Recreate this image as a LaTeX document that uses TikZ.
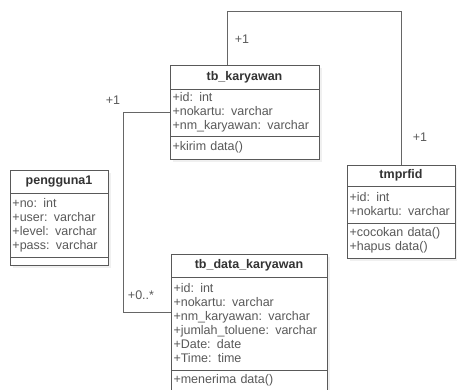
\documentclass[tikz,border=0pt]{standalone}
\usepackage{fontspec}
\setmainfont{Liberation Sans}
\usetikzlibrary{positioning,shadows}

\begin{document}
\begin{tikzpicture}[x=1pt,y=-1pt,
  cls/.style={draw=black!65, fill=white, line width=0.8pt, outer sep=0pt,
    inner xsep=2.5pt, inner ysep=0pt, text=black!65,
    font=\fontsize{12.5}{14}\selectfont,
    drop shadow={opacity=0.12, shadow xshift=3pt, shadow yshift=-3pt}},
  head/.style={cls, anchor=north west, align=center, text=black!80, font=\fontsize{12.5}{14}\selectfont\bfseries},
  part/.style={cls, align=left},
  conn/.style={draw=black!60, line width=0.8pt},
  mult/.style={text=black!65, font=\fontsize{12.5}{14}\selectfont}]
\useasboundingbox (0,0) rectangle (457,389);
% tb_karyawan
\node[head, text width=144pt, minimum height=24pt] (kary) at (170,65) {tb\_karyawan};
\node[part, text width=144pt, minimum height=47pt, below right=0pt and 0pt of kary.south west] (karyattr) {+id: int\\+nokartu: varchar\\+nm\_karyawan: varchar};
\node[part, text width=144pt, minimum height=23pt, below right=0pt and 0pt of karyattr.south west] (karymeth) {+kirim data()};
% tmprfid
\node[head, text width=103pt, minimum height=21pt] (rfid) at (347,165) {tmprfid};
\node[part, text width=103pt, minimum height=37pt, below right=0pt and 0pt of rfid.south west] (rfidattr) {+id: int\\+nokartu: varchar};
\node[part, text width=103pt, minimum height=35pt, below right=0pt and 0pt of rfidattr.south west] (rfidmeth) {+cocokan data()\\+hapus data()};
% pengguna1
\node[head, text width=93pt, minimum height=23pt] (user) at (10,170) {pengguna1};
\node[part, text width=93pt, minimum height=64pt, below right=0pt and 0pt of user.south west] (userattr) {+no: int\\+user: varchar\\+level: varchar\\+pass: varchar};
\node[part, text width=93pt, minimum height=8pt, below right=0pt and 0pt of userattr.south west] (usermeth) {};
% tb_data_karyawan
\node[head, text width=151pt, minimum height=23pt] (data) at (171,254) {tb\_data\_karyawan};
\node[part, text width=151pt, minimum height=93pt, below right=0pt and 0pt of data.south west] (dataattr) {+id: int\\+nokartu: varchar\\+nm\_karyawan: varchar\\+jumlah\_toluene: varchar\\+Date: date\\+Time: time};
\node[part, text width=151pt, minimum height=20pt, below right=0pt and 0pt of dataattr.south west] (datameth) {+menerima data()};

\draw[conn] ([xshift=57pt]kary.north west) |- ([yshift=154pt]rfid.north) -- (rfid.north);
\draw[conn] (karyattr.west) -- ++(-47pt,0) |- ([yshift=11.5pt]dataattr.west);
\node[mult] (m1) at (242,39) {+1};
\node[mult] (m2) at (420,137) {+1};
\node[mult] (m3) at (113,100) {+1};
\node[mult] (m4) at (141,295) {+0..*};
\end{tikzpicture}
\end{document}
